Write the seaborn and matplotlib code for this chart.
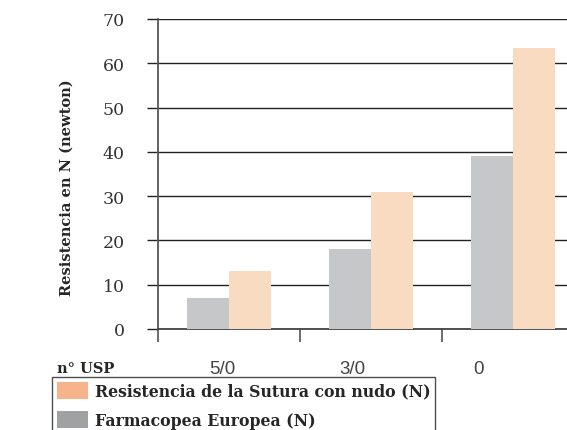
import pandas as pd
import numpy as np
import matplotlib
matplotlib.use("Agg")
import matplotlib.pyplot as plt
import matplotlib.transforms as mtransforms
from matplotlib.patches import Patch
import seaborn as sns

# data
sizes = ["5/0", "3/0", "0"]
farmacopea = [7, 18, 39]
resistencia = [13, 31, 63.5]
series_names = ["Farmacopea Europea (N)", "Resistencia de la Sutura con nudo (N)"]
y_ticks = [0, 10, 20, 30, 40, 50, 60, 70]

df = pd.DataFrame({
    "usp": sizes * 2,
    "valor": farmacopea + resistencia,
    "serie": [series_names[0]] * 3 + [series_names[1]] * 3,
})

sns.set_style("white")
plt.rcParams["font.family"] = ["DejaVu Serif"]

bar_colors = ["#c6c7c9", "#f9dbc2"]
legend_colors = {"Resistencia de la Sutura con nudo (N)": "#f7b38a",
                 "Farmacopea Europea (N)": "#a0a1a3"}

fig = plt.figure(figsize=(5.67, 4.31), dpi=100)
ax = fig.add_axes([158 / 567, 1 - 330 / 431, 409 / 567, 310 / 431])

sns.barplot(data=df, x="usp", y="valor", hue="serie", hue_order=series_names,
            palette=bar_colors, width=0.59, linewidth=0, saturation=1,
            legend=False, ax=ax, zorder=3)

ax.set_xlim(-0.5, -0.5 + 409 / 142)
ax.set_ylim(0, 70)
ax.set_yticks(y_ticks)
ax.set_yticklabels([str(t) for t in y_ticks], fontsize=12.5, color="#333333",
                   family="DejaVu Serif")
ax.yaxis.grid(True, color="#222222", linewidth=1.0, zorder=0)
ax.set_axisbelow(True)
ax.tick_params(axis="y", length=8, width=1.0, color="#222222", pad=16, left=True)

for side in ["top", "right"]:
    ax.spines[side].set_visible(False)
ax.spines["left"].set_color("#555555")
ax.spines["left"].set_linewidth(1.3)
ax.spines["bottom"].set_color("#444444")
ax.spines["bottom"].set_linewidth(1.3)

# category boundary ticks below the axis
ax.set_xticks([-0.5, 0.5, 1.5], minor=True)
ax.tick_params(axis="x", which="minor", length=9, width=1.1, color="#444444",
               bottom=True, direction="out")
ax.tick_params(axis="x", which="major", length=0, pad=22.5)
ax.set_xticks(range(len(sizes)))
ax.set_xticklabels(sizes, fontsize=13.5, color="#444444", family="Liberation Sans")
label_shift_px = [-7, -19, -35]
for lab, dx in zip(ax.get_xticklabels(), label_shift_px):
    lab.set_transform(lab.get_transform() +
                      mtransforms.ScaledTranslation(dx / 100, 0, fig.dpi_scale_trans))

ax.set_xlabel("")
ax.set_ylabel("Resistencia en N (newton)", fontsize=10.5, fontweight="bold",
              family="DejaVu Serif")
ax.yaxis.set_label_coords(-0.207, 0.46)

fig.text(57 / 567, 1 - 369 / 431, "n° USP", fontsize=10.5, fontweight="bold",
         family="DejaVu Serif", va="center", ha="left")

handles = [Patch(facecolor=legend_colors[n], edgecolor="none") for n in
           ["Resistencia de la Sutura con nudo (N)", "Farmacopea Europea (N)"]]
leg = fig.legend(handles, ["Resistencia de la Sutura con nudo (N)", "Farmacopea Europea (N)"],
                 loc="upper left", bbox_to_anchor=(52 / 567, 1 - 378 / 431),
                 prop={"family": "DejaVu Serif", "weight": "bold", "size": 11.3},
                 fancybox=False, frameon=True, handlelength=2.0, handleheight=1.3,
                 handletextpad=0.45, borderpad=0.3, labelspacing=0.75,
                 borderaxespad=0)
leg.get_frame().set_edgecolor("#222222")
leg.get_frame().set_linewidth(1.0)

fig.savefig("out.png", dpi=100)
